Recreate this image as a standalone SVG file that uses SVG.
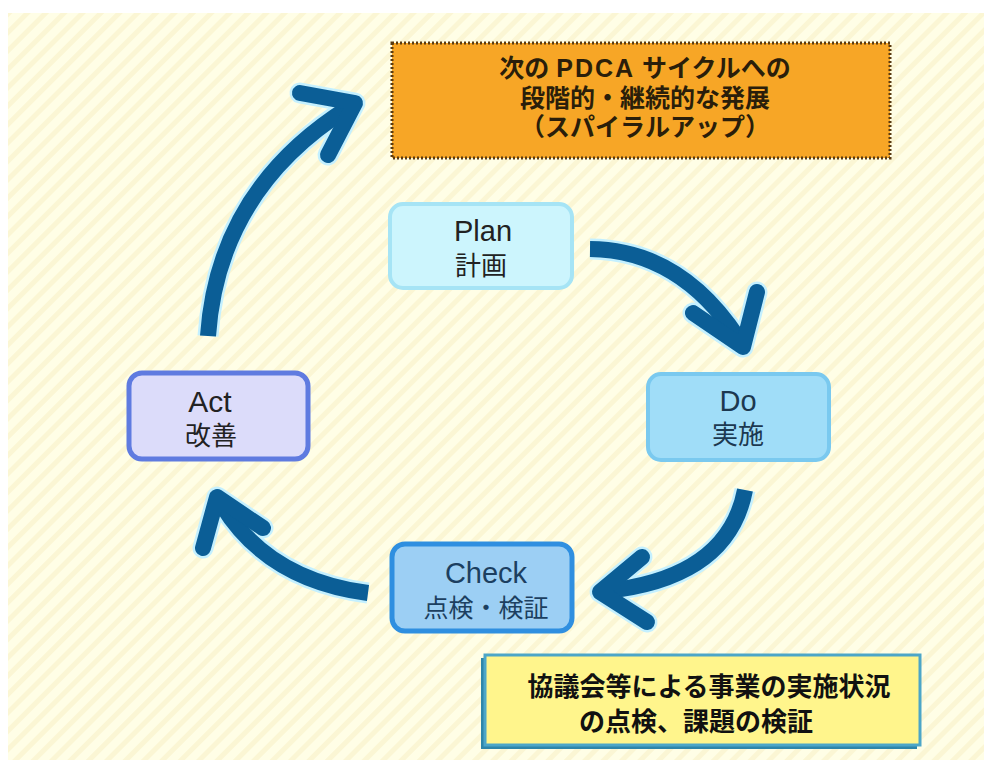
<svg xmlns="http://www.w3.org/2000/svg" width="984" height="760" viewBox="0 0 984 760">
<defs>
<pattern id="stripes" width="13" height="13" patternUnits="userSpaceOnUse" patternTransform="rotate(45)">
<rect width="13" height="13" fill="#FFFEE6"/>
<rect width="5" height="13" fill="#FBF6D4"/>
</pattern>
<style>
.lat{font-family:"Liberation Sans","Noto Sans CJK JP",sans-serif;}
.jp{font-family:"Noto Sans CJK JP",sans-serif;}
.node text{text-anchor:middle;}
.glow{fill:none;stroke:#C4F0FF;stroke-width:21;}
.arr{fill:none;stroke:#0B5E96;stroke-width:16;}
.head{stroke-linecap:round;stroke-linejoin:round;}
</style>
</defs>
<rect width="984" height="760" fill="#FFFFFF"/>
<rect x="8" y="13" width="976" height="747" fill="url(#stripes)"/>

<g id="next-cycle" class="node">
<rect x="392" y="43" width="498" height="115" fill="#F7A626" stroke="#5A3A10" stroke-width="3" stroke-dasharray="2 2"/>
<text class="lat" font-size="25" font-weight="bold" fill="#2A1E0A"><tspan x="645" y="77">次の <tspan letter-spacing="2">PDCA</tspan> サイクルへの</tspan><tspan x="645" y="107">段階的・継続的な発展</tspan><tspan x="645" y="136">（スパイラルアップ）</tspan></text>
</g>

<g id="plan" class="node">
<rect x="390" y="204" width="182" height="84" rx="13" fill="#CCF5FD" stroke="#A6E4F5" stroke-width="4"/>
<text x="483" y="241" class="lat" font-size="29" fill="#222">Plan</text>
<text x="481" y="275" class="jp" font-size="26" fill="#222">計画</text>
</g>

<g id="do" class="node">
<rect x="648" y="374" width="181" height="86" rx="13" fill="#A0DDF8" stroke="#7AC9EF" stroke-width="4"/>
<text x="738" y="411" class="lat" font-size="29" fill="#1C3850">Do</text>
<text x="738" y="444" class="jp" font-size="26" fill="#1C3850">実施</text>
</g>

<g id="act" class="node">
<rect x="129" y="373" width="179" height="86" rx="13" fill="#DCDCFA" stroke="#5F7BE0" stroke-width="5"/>
<text x="210" y="412" class="lat" font-size="30" fill="#222">Act</text>
<text x="211" y="445" class="jp" font-size="26" fill="#222">改善</text>
</g>

<g id="check" class="node">
<rect x="392" y="544" width="180" height="87" rx="13" fill="#9CCFF4" stroke="#2F8FE0" stroke-width="5"/>
<text x="486" y="583" class="lat" font-size="29" fill="#1C3F60">Check</text>
<text x="486" y="617" class="jp" font-size="25" fill="#1C3F60">点検・検証</text>
</g>

<g id="note" class="node">
<rect x="481" y="658" width="436" height="91" fill="#2E86AA"/>
<rect x="485" y="655" width="435" height="90" fill="#FFF58C" stroke="#4CA6C8" stroke-width="3"/>
<text class="lat" font-size="26" font-weight="bold" fill="#111"><tspan x="709" y="696">協議会等による事業の実施状況</tspan><tspan x="696" y="731">の点検、課題の検証</tspan></text>
</g>

<g id="connectors">
<path class="glow" d="M590,249 Q680,250 738,338"/>
<path class="glow head" d="M693,313 L743,347 L757,292"/>
<path class="glow" d="M745,490 Q728,578 606,591"/>
<path class="glow head" d="M642,557 L600,592 L647,622"/>
<path class="glow" d="M368,593 Q268,580 222,505"/>
<path class="glow head" d="M263,528 L217,497 L203,548"/>
<path class="glow" d="M208,336 Q218,190 348,108"/>
<path class="glow head" d="M300,93 L355,103 L328,155"/>

<path class="arr" d="M590,249 Q680,250 738,338"/>
<path class="arr head" d="M693,313 L743,347 L757,292"/>
<path class="arr" d="M745,490 Q728,578 606,591"/>
<path class="arr head" d="M642,557 L600,592 L647,622"/>
<path class="arr" d="M368,593 Q268,580 222,505"/>
<path class="arr head" d="M263,528 L217,497 L203,548"/>
<path class="arr" d="M208,336 Q218,190 348,108"/>
<path class="arr head" d="M300,93 L355,103 L328,155"/>
</g>
</svg>
